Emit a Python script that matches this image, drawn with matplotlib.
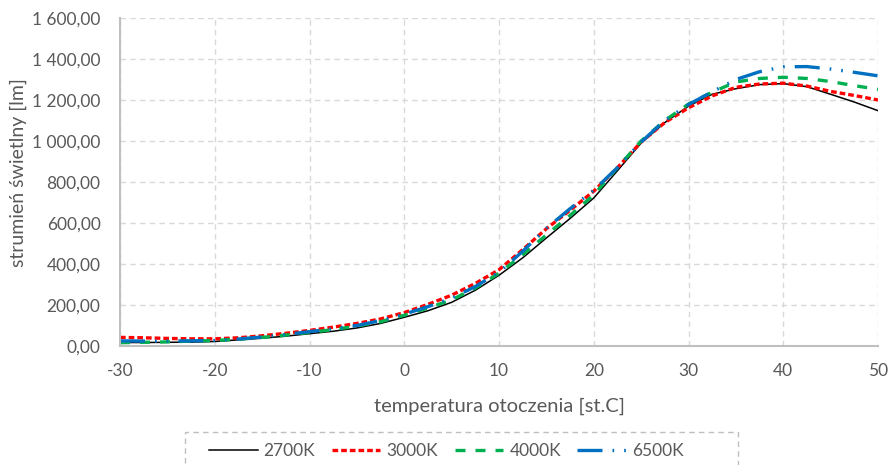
import matplotlib
matplotlib.use("Agg")
import matplotlib.pyplot as plt
from matplotlib.ticker import FuncFormatter, MultipleLocator
from matplotlib.patches import Rectangle

plt.rcParams['font.family'] = ['Lato', 'DejaVu Sans']
plt.rcParams['axes.unicode_minus'] = False

temperature = [-30, -27.5, -25, -22.5, -20, -17.5, -15, -12.5, -10, -7.5, -5, -2.5,
               0, 2.5, 5, 7.5, 10, 12.5, 15, 17.5, 20, 22.5, 25, 27.5, 30, 32.5,
               35, 37.5, 40, 42.5, 45, 47.5, 50]

flux_2700 = [17, 17, 18, 19, 22, 30, 38, 48, 60, 72, 88, 110,
             140, 172, 213, 272, 345, 430, 527, 622, 722, 855, 990, 1090, 1170, 1228,
             1255, 1275, 1280, 1265, 1228, 1190, 1148]
flux_3000 = [42, 40, 37, 35, 35, 40, 50, 62, 76, 92, 110, 132,
             163, 203, 248, 305, 372, 470, 572, 662, 755, 870, 995, 1090, 1162, 1220,
             1262, 1278, 1282, 1268, 1242, 1222, 1200]
flux_4000 = [16, 18, 20, 24, 27, 33, 42, 53, 66, 80, 97, 118,
             150, 185, 225, 283, 355, 445, 542, 637, 737, 870, 1000, 1100, 1180, 1238,
             1288, 1305, 1311, 1305, 1290, 1270, 1252]
flux_6500 = [25, 24, 24, 25, 27, 34, 44, 56, 70, 84, 100, 124,
             155, 192, 233, 290, 360, 462, 574, 670, 760, 870, 995, 1100, 1178, 1240,
             1300, 1338, 1362, 1363, 1351, 1335, 1318]

series_labels = ['2700K', '3000K', '4000K', '6500K']

W, H = 891, 465
fig = plt.figure(figsize=(W / 100, H / 100), dpi=100)
ax = fig.add_axes([120 / W, 1 - 346 / H, 758 / W, 328 / H])

text_color = '#595959'
ax.plot(temperature, flux_2700, color='black', lw=1.1, label=series_labels[0])
ax.plot(temperature, flux_3000, color='#ff0000', lw=2.4,
        linestyle=(0, (1.7, 0.9)), dash_capstyle='butt', label=series_labels[1])
ax.plot(temperature, flux_4000, color='#00b050', lw=2.4,
        linestyle=(0, (3.0, 3.0)), dash_capstyle='butt', label=series_labels[2])
ax.plot(temperature, flux_6500, color='#0070c0', lw=2.4,
        linestyle=(0, (7.5, 3.0, 0.5, 3.0, 0.5, 3.0)), dash_capstyle='butt',
        label=series_labels[3])

ax.set_xlim(-30, 50)
ax.set_ylim(0, 1600)
ax.xaxis.set_major_locator(MultipleLocator(10))
ax.yaxis.set_major_locator(MultipleLocator(200))


def yfmt(v, pos):
    return f"{v:,.2f}".replace(",", " ").replace(".", ",")


ax.yaxis.set_major_formatter(FuncFormatter(yfmt))
ax.xaxis.set_major_formatter(FuncFormatter(lambda v, p: f"{int(round(v))}"))

ax.grid(True, color='#d9d9d9', linestyle=(0, (4, 3)), linewidth=1.0)
ax.set_axisbelow(True)
for s in ['top', 'right']:
    ax.spines[s].set_visible(False)
for s in ['left', 'bottom']:
    ax.spines[s].set_color('#bfbfbf')
    ax.spines[s].set_linewidth(1.5)

ax.tick_params(axis='both', length=0, labelsize=12.5, labelcolor=text_color)
ax.tick_params(axis='y', pad=14)
ax.tick_params(axis='x', pad=12)

ax.set_xlabel('temperatura otoczenia [st.C]', fontsize=14.5, color=text_color)
ax.set_ylabel('strumień świetlny [lm]', fontsize=14, color=text_color)
ax.xaxis.label.set_va('center')
ax.yaxis.label.set_va('center')
ax.xaxis.set_label_coords((500 - 120) / 758, (346 - 406) / 328)
ax.yaxis.set_label_coords((18 - 120) / 758, (346 - 173) / 328)

# legend box (dashed border, extends past the figure bottom)
fig.patches.append(Rectangle((185 / W, 1 - 475 / H), (738 - 185) / W, 43 / H,
                             transform=fig.transFigure, fill=False,
                             edgecolor='#bfbfbf', linestyle=(0, (4, 3)),
                             linewidth=1.0))
leg = fig.legend(loc='center left', bbox_to_anchor=(209 / W, 1 - 451 / H),
                 ncol=4, frameon=False, fontsize=12.5, handlelength=2.8,
                 handletextpad=0.35, columnspacing=0.95, borderpad=0,
                 borderaxespad=0, labelcolor=text_color)

fig.savefig('out.png', dpi=100)
